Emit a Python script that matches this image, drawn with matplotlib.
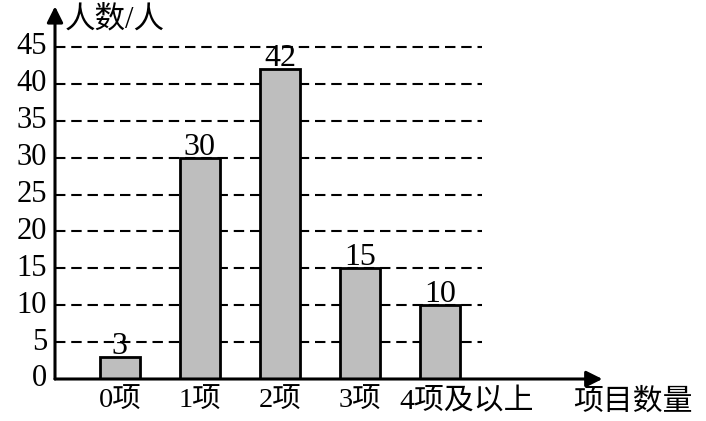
import matplotlib.pyplot as plt

categories = ['0项', '1项', '2项', '3项', '4项及以上']
counts = [3, 30, 42, 15, 10]
yticks = [0, 5, 10, 15, 20, 25, 30, 35, 40, 45]

fonts = ['Liberation Serif', 'Noto Sans CJK SC', 'DejaVu Sans']
plt.rcParams['font.family'] = fonts

fig = plt.figure(figsize=(7.06, 4.21), dpi=100)
# axes placed so the y-axis sits at x=55px and y=0 at 379px
x0, x1 = -0.81, 6.1
y0, y1 = 0, 51
left = 55 / 706
width = (120 + x1 * 80 - 55) / 706
bottom = 1 - 379 / 421
height = (y1 * 7.38) / 421
ax = fig.add_axes([left, bottom, width, height])
ax.set_xlim(x0, x1)
ax.set_ylim(y0, y1)
for s in ax.spines.values():
    s.set_visible(False)
ax.set_xticks([])
ax.set_yticks([])

xs = list(range(len(categories)))

# dashed grid lines
for t in yticks[1:]:
    ax.plot([x0, 4.53], [t, t], color='black', ls=(0, (5, 2.8)), lw=1.5, zorder=1)

ax.bar(xs, counts, width=0.5, color='#bebebe', edgecolor='black', lw=2, zorder=2)

for x, v in zip(xs, counts):
    ax.text(x, v + 0.4, str(v), ha='center', va='baseline', fontsize=23, zorder=3)

# axes with arrows
ax.annotate('', xy=(6.03, 0), xytext=(x0, 0),
            arrowprops=dict(arrowstyle='-|>', color='black', lw=2.2,
                            mutation_scale=24, shrinkA=0, shrinkB=0),
            annotation_clip=False)
ax.annotate('', xy=(x0, 50.5), xytext=(x0, 0),
            arrowprops=dict(arrowstyle='-|>', color='black', lw=2.2,
                            mutation_scale=24, shrinkA=0, shrinkB=0),
            annotation_clip=False)

for t in yticks:
    ax.text(x0 - 0.1, t, str(t), ha='right', va='center', fontsize=22,
            clip_on=False)

for x, c in zip(xs, categories):
    if c == categories[-1]:
        # long label starts just right of the previous one, as in the original
        ax.text(x - 0.51, -1.3, c, ha='left', va='top', fontsize=21.5, clip_on=False)
    else:
        ax.text(x, -1.3, c, ha='center', va='top', fontsize=20.5, clip_on=False)

ax.text(6.41, -1.3, '项目数量', ha='center', va='top', fontsize=21.5,
        clip_on=False)
ax.text(x0 + 0.12, 48.6, '人数/人', ha='left', va='center', fontsize=22,
        clip_on=False)

fig.savefig('out.png', dpi=100)
